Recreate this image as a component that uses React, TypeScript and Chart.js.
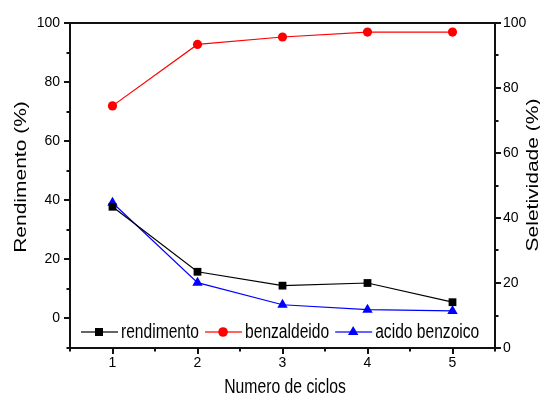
import React, { useEffect, useRef } from 'react';
import { Chart, registerables } from 'chart.js';

Chart.register(...registerables);

// ---- data ----
const cycles = [1, 2, 3, 4, 5];
const rendimento = [37.8, 15.8, 11.1, 12.0, 5.5];
const benzaldeido = [74.5, 93.4, 95.7, 97.2, 97.2];
const acidoBenzoico = [44.7, 20.1, 13.3, 11.8, 11.4];

const seriesLabels = ['rendimento', 'benzaldeido', 'acido benzoico'];
const seriesColors = ['#000000', '#ff0000', '#0000ff'];
const legendLineColors = ['#333333', '#ff3030', '#3030ff'];

const xTickValues = [1, 2, 3, 4, 5];
const leftTickValues = [0, 20, 40, 60, 80, 100];
const rightTickValues = [0, 20, 40, 60, 80, 100];

const xTitle = 'Numero de ciclos';
const leftTitle = 'Rendimento (%)';
const rightTitle = 'Seletividade (%)';

const SANS = '"Liberation Sans", Arial, sans-serif';

const framePlugin = {
  id: 'framePlugin',
  afterDraw(chart: any) {
    const { ctx, chartArea: a, scales } = chart;
    ctx.save();
    ctx.strokeStyle = '#111';
    ctx.lineWidth = 2;
    ctx.strokeRect(a.left, a.top, a.right - a.left, a.bottom - a.top);

    const line = (x1: number, y1: number, x2: number, y2: number) => {
      ctx.beginPath();
      ctx.moveTo(x1, y1);
      ctx.lineTo(x2, y2);
      ctx.stroke();
    };
    const squeezed = (text: string, x: number, y: number, sx: number) => {
      ctx.save();
      ctx.translate(x, y);
      ctx.scale(sx, 1);
      ctx.fillText(text, 0, 0);
      ctx.restore();
      return ctx.measureText(text).width * sx;
    };
    // left axis ticks
    for (let v = -10; v <= 100; v += 10) {
      const y = Math.round(scales.y.getPixelForValue(v));
      const len = v % 20 === 0 ? 6 : 3.5;
      line(a.left - len, y, a.left, y);
    }
    // right axis ticks
    for (let v = 0; v <= 100; v += 10) {
      const y = Math.round(scales.y1.getPixelForValue(v));
      const len = v % 20 === 0 ? 6 : 3.5;
      line(a.right, y, a.right + len, y);
    }
    // bottom ticks
    for (let v = 0.5; v <= 5.5; v += 0.5) {
      const x = Math.round(scales.x.getPixelForValue(v));
      const len = Number.isInteger(v) ? 6 : 3.5;
      line(x, a.bottom, x, a.bottom + len);
    }

    // titles
    ctx.fillStyle = '#000';
    ctx.textAlign = 'center';
    ctx.textBaseline = 'alphabetic';
    ctx.font = `21px ${SANS}`;
    squeezed(xTitle, 285, 393, 0.75);

    ctx.textBaseline = 'middle';
    ctx.font = `21px ${SANS}`;
    ctx.save();
    ctx.translate(21, 177);
    ctx.rotate(-Math.PI / 2);
    ctx.scale(1, 0.78);
    ctx.fillText(leftTitle, 0, 0);
    ctx.restore();

    ctx.save();
    ctx.translate(533, 175);
    ctx.rotate(-Math.PI / 2);
    ctx.scale(1, 0.78);
    ctx.fillText(rightTitle, 0, 0);
    ctx.restore();

    // legend
    const ly = a.bottom - 16;
    let x0 = a.left + 11;
    ctx.font = `19.5px ${SANS}`;
    ctx.textAlign = 'left';
    ctx.textBaseline = 'alphabetic';
    for (let i = 0; i < seriesLabels.length; i++) {
      ctx.strokeStyle = legendLineColors[i];
      ctx.lineWidth = 1.5;
      line(x0, ly, x0 + 37, ly);
      const mx = x0 + 18;
      ctx.fillStyle = seriesColors[i];
      if (i === 0) {
        ctx.fillRect(mx - 4, ly - 4, 8, 8);
      } else if (i === 1) {
        ctx.beginPath();
        ctx.arc(mx, ly, 4.8, 0, Math.PI * 2);
        ctx.fill();
      } else {
        const r = 6;
        ctx.beginPath();
        ctx.moveTo(mx, ly - r);
        ctx.lineTo(mx + r * 0.866, ly + r / 2);
        ctx.lineTo(mx - r * 0.866, ly + r / 2);
        ctx.closePath();
        ctx.fill();
      }
      ctx.fillStyle = '#000';
      const tx = x0 + 40;
      const w = squeezed(seriesLabels[i], tx, ly + 6, 0.8);
      x0 = tx + w + 6;
    }
    ctx.restore();
  },
};

export default function App() {
  const ref = useRef<HTMLCanvasElement | null>(null);

  useEffect(() => {
    if (!ref.current) return;
    const toXY = (arr: number[]) => cycles.map((c, i) => ({ x: c, y: arr[i] }));
    const chart = new Chart(ref.current, {
      type: 'line',
      data: {
        datasets: [
          {
            label: seriesLabels[0],
            data: toXY(rendimento),
            yAxisID: 'y',
            borderColor: seriesColors[0],
            backgroundColor: seriesColors[0],
            borderWidth: 1.2,
            pointStyle: 'rect',
            pointRadius: 5.5,
            pointBorderWidth: 0,
          },
          {
            label: seriesLabels[1],
            data: toXY(benzaldeido),
            yAxisID: 'y1',
            borderColor: seriesColors[1],
            backgroundColor: seriesColors[1],
            borderWidth: 1.2,
            pointStyle: 'circle',
            pointRadius: 4.6,
            pointBorderWidth: 0,
          },
          {
            label: seriesLabels[2],
            data: toXY(acidoBenzoico),
            yAxisID: 'y1',
            borderColor: seriesColors[2],
            backgroundColor: seriesColors[2],
            borderWidth: 1.2,
            pointStyle: 'triangle',
            pointRadius: 6,
            pointBorderWidth: 0,
          },
        ],
      },
      options: {
        animation: false,
        responsive: false,
        devicePixelRatio: 1,
        layout: { padding: { top: 23, left: 0, right: 0, bottom: 0 } },
        plugins: { legend: { display: false }, tooltip: { enabled: false } },
        scales: {
          x: {
            type: 'linear',
            min: 0.5,
            max: 5.5,
            afterBuildTicks: (s: any) => { s.ticks = xTickValues.map((v) => ({ value: v })); },
            afterFit: (s: any) => { s.height = 46; },
            grid: { display: false, drawTicks: false },
            border: { display: false },
            ticks: { color: '#000', font: { family: SANS, size: 14 }, padding: 7, maxRotation: 0 },
          },
          y: {
            type: 'linear',
            position: 'left',
            min: -10,
            max: 100,
            afterBuildTicks: (s: any) => { s.ticks = leftTickValues.map((v) => ({ value: v })); },
            afterFit: (s: any) => { s.width = 70; },
            grid: { display: false, drawTicks: false },
            border: { display: false },
            ticks: { color: '#000', font: { family: SANS, size: 14 }, padding: 10 },
          },
          y1: {
            type: 'linear',
            position: 'right',
            min: 0,
            max: 100,
            afterBuildTicks: (s: any) => { s.ticks = rightTickValues.map((v) => ({ value: v })); },
            afterFit: (s: any) => { s.width = 45; },
            grid: { display: false, drawTicks: false },
            border: { display: false },
            ticks: { color: '#000', font: { family: SANS, size: 14 }, padding: 8 },
          },
        },
      },
      plugins: [framePlugin],
    } as any);
    return () => chart.destroy();
  }, []);

  return (
    <div style={{ position: 'absolute', left: 0, top: 0, width: 540, height: 394, background: '#fff' }}>
      <canvas ref={ref} width={540} height={394} style={{ display: 'block', width: 540, height: 394 }} />
    </div>
  );
}
